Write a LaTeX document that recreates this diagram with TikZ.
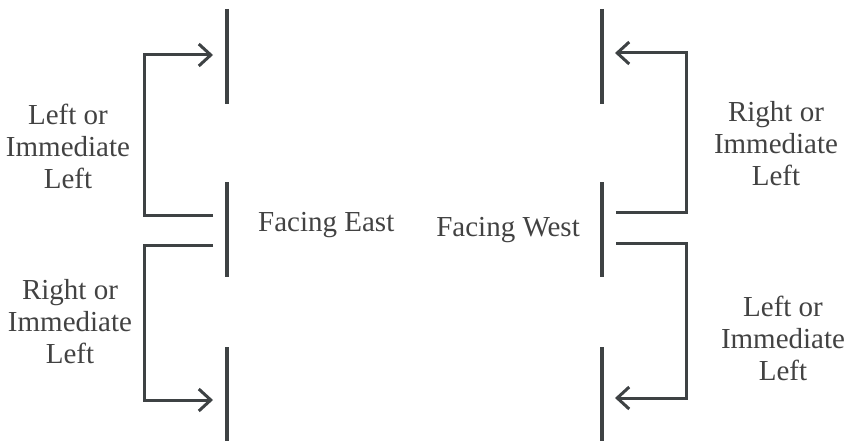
\documentclass[tikz,border=0pt]{standalone}
\usepackage{fontspec}
\setmainfont{Liberation Serif}
\usetikzlibrary{arrows.meta}
\definecolor{linegrey}{RGB}{62,66,68}
\definecolor{textgrey}{RGB}{66,66,66}

\begin{document}
\begin{tikzpicture}[x=1pt, y=-1pt,
        observer/.style={line width=3.5pt, linegrey},
        dirline/.style={line width=3pt, linegrey, -{Straight Barb[length=12pt, width=22pt]}},
        sidetext/.style={textgrey, align=center, inner sep=0pt, font=\fontsize{29}{32}\selectfont}]
        \useasboundingbox (0,0) rectangle (853,441);
        % rows of people
        \foreach \s/\x in {E/227, W/602} {
                \draw[observer] (\x, 9) -- (\x, 104);
                \draw[observer] (\x, 182) -- (\x, 277);
                \draw[observer] (\x, 347) -- (\x, 441);
            }
        \coordinate (eastUp) at (213, 215);
        \coordinate (eastUpTip) at (213, 55);
        \coordinate (eastDown) at (213, 245);
        \coordinate (eastDownTip) at (213, 400);
        \coordinate (westUp) at (616, 212);
        \coordinate (westUpTip) at (615, 53);
        \coordinate (westDown) at (616, 243);
        \coordinate (westDownTip) at (615, 398);
        \draw[dirline] (eastUp) -- ++(-69, 0) |- (eastUpTip);
        \draw[dirline] (eastDown) -- ++(-69, 0) |- (eastDownTip);
        \draw[dirline] (westUp) -- ++(70, 0) |- (westUpTip);
        \draw[dirline] (westDown) -- ++(70, 0) |- (westDownTip);
        \node[sidetext] (eastLeft) at (68, 146) {Left or\\Immediate\\Left};
        \node[sidetext] (eastRight) at (70, 322) {Right or\\Immediate\\Left};
        \node[sidetext] (westRight) at (776, 144) {Right or\\Immediate\\Left};
        \node[sidetext] (westLeft) at (783, 338) {Left or\\Immediate\\Left};
        \node[sidetext, anchor=west] (facingE) at (258, 225) {Facing East};
        \node[sidetext, anchor=east] (facingW) at (580, 230) {Facing West};
    \end{tikzpicture}
\end{document}
